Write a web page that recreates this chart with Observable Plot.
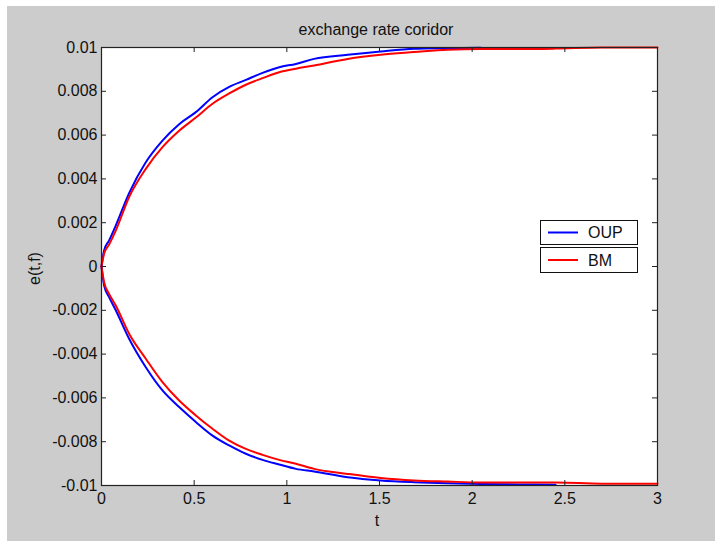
<!DOCTYPE html>
<html>
<head>
<meta charset="utf-8">
<script src="https://cdn.jsdelivr.net/npm/d3@7"></script>
<script src="https://cdn.jsdelivr.net/npm/@observablehq/plot@0.6"></script>
<style>
  html, body { margin: 0; padding: 0; background: #ffffff; }
  #wrap { position: absolute; left: 7px; top: 6px; width: 708px; height: 535px; background: #cccccc; overflow: hidden; }
  #wrap svg { position: absolute; left: 0; top: 0; }
</style>
</head>
<body>
<div id="wrap"></div>
<script>
// ---- data ----
const t       = [0, 0.014, 0.041, 0.077, 0.149, 0.239, 0.329, 0.419, 0.509, 0.599, 0.689, 0.779, 0.869, 0.959, 1.049, 1.147, 1.328, 1.507, 1.687, 1.867, 2.047, 2.25, 2.45, 2.7, 3];
const oupUpper = [0, 0.00073, 0.00119, 0.00187, 0.00335, 0.00476, 0.00575, 0.0065, 0.00705, 0.00773, 0.0082, 0.00852, 0.00884, 0.0091, 0.00925, 0.00948, 0.00967, 0.00982, 0.00994, 0.00997, 0.00999, null, null, null, null];
const bmUpper  = [0, 0.00058, 0.001, 0.00164, 0.00317, 0.00446, 0.00545, 0.0062, 0.0068, 0.00743, 0.0079, 0.0083, 0.0086, 0.00887, 0.00903, 0.00918, 0.00948, 0.00967, 0.00979, 0.0099, 0.00993, 0.00993, 0.00995, 0.01, 0.01];
const oupLower = [0, -0.00087, -0.0014, -0.002, -0.0033, -0.0046, -0.00566, -0.00642, -0.0071, -0.00772, -0.00817, -0.00855, -0.00883, -0.00904, -0.00924, -0.00936, -0.00962, -0.00977, -0.00985, -0.0099, -0.00993, -0.00995, -0.00997, null, null];
const bmLower  = [0, -0.00072, -0.00125, -0.00178, -0.00307, -0.00421, -0.00528, -0.00612, -0.0068, -0.00741, -0.00795, -0.00833, -0.0086, -0.00883, -0.00901, -0.00924, -0.00947, -0.00966, -0.00977, -0.00982, -0.00986, -0.00986, -0.00986, -0.00992, -0.00992];

const xTicks = [0, 0.5, 1, 1.5, 2, 2.5, 3];
const xTickLabels = ["0", "0.5", "1", "1.5", "2", "2.5", "3"];
const yTicks = [0.01, 0.008, 0.006, 0.004, 0.002, 0, -0.002, -0.004, -0.006, -0.008, -0.01];
const yTickLabels = ["0.01", "0.008", "0.006", "0.004", "0.002", "0", "-0.002", "-0.004", "-0.006", "-0.008", "-0.01"];

const titleText = "exchange rate coridor";
const xLabel = "t";
const yLabel = "e(t,f)";
const seriesNames = ["OUP", "BM"];
const seriesColors = ["#0000ff", "#ff0000"];

// ---- build tables ----
function pts(vals) {
  return t.map((tt, i) => ({t: tt, v: vals[i]})).filter(d => d.v !== null);
}

const W = 708, H = 535;
const mL = 94, mT = 41, mR = 58, mB = 56;
const plotW = W - mL - mR, plotH = H - mT - mB;
const tickLen = 5;

const chart = Plot.plot({
  width: W,
  height: H,
  marginLeft: mL,
  marginTop: mT,
  marginRight: mR,
  marginBottom: mB,
  style: {background: "transparent", fontFamily: "'Liberation Sans', Arial, Helvetica, sans-serif", fontSize: "16px", color: "#111"},
  x: {domain: [0, 3]},
  y: {domain: [-0.01, 0.01]},
  marks: [
    Plot.frame({fill: "white", stroke: "none"}),
    Plot.line(pts(oupUpper), {x: "t", y: "v", stroke: seriesColors[0], strokeWidth: 2, curve: "monotone-x"}),
    Plot.line(pts(oupLower), {x: "t", y: "v", stroke: seriesColors[0], strokeWidth: 2, curve: "monotone-x"}),
    Plot.line(pts(bmUpper), {x: "t", y: "v", stroke: seriesColors[1], strokeWidth: 2, curve: "monotone-x"}),
    Plot.line(pts(bmLower), {x: "t", y: "v", stroke: seriesColors[1], strokeWidth: 2, curve: "monotone-x"}),
    Plot.tickX(xTicks, {x: d => d, insetTop: plotH - tickLen, stroke: "#222"}),
    Plot.tickX(xTicks, {x: d => d, insetBottom: plotH - tickLen, stroke: "#222"}),
    Plot.tickY(yTicks, {y: d => d, insetRight: plotW - tickLen, stroke: "#222"}),
    Plot.tickY(yTicks, {y: d => d, insetLeft: plotW - tickLen, stroke: "#222"}),
    Plot.frame({stroke: "#222", strokeWidth: 1.2}),
    Plot.axisX({ticks: xTicks, tickSize: 0, tickPadding: 7, tickFormat: (d) => xTickLabels[xTicks.indexOf(d)], label: null, fill: "#111"}),
    Plot.axisY({ticks: yTicks, tickSize: 0, tickPadding: 4, tickFormat: (d) => yTickLabels[yTicks.indexOf(d)], label: null, fill: "#111"})
  ]
});

document.getElementById("wrap").appendChild(chart);

// ---- title, axis labels and legend ----
const svg = d3.select(chart);
const g = svg.append("g").attr("font-family", "'Liberation Sans', Arial, Helvetica, sans-serif").attr("font-size", 16).attr("fill", "#111");
g.append("text").attr("x", 369).attr("y", 28.5).attr("text-anchor", "middle").text(titleText);
g.append("text").attr("x", 370).attr("y", 520).attr("text-anchor", "middle").text(xLabel);
g.append("text").attr("transform", "translate(33,262.5) rotate(-90)").attr("text-anchor", "middle").text(yLabel);

const legendBoxes = [{y: 214, h: 24}, {y: 241, h: 25}];
seriesNames.forEach((name, i) => {
  const b = legendBoxes[i];
  g.append("rect").attr("x", 533.5).attr("y", b.y + 0.5).attr("width", 97).attr("height", b.h)
    .attr("fill", "white").attr("stroke", "#111").attr("stroke-width", 1);
  const cy = b.y + b.h / 2 + 0.5;
  g.append("line").attr("x1", 541).attr("x2", 571).attr("y1", cy).attr("y2", cy)
    .attr("stroke", seriesColors[i]).attr("stroke-width", 2);
  g.append("text").attr("x", 581).attr("y", cy + 5.5).attr("text-anchor", "start").text(name);
});
</script>
</body>
</html>
